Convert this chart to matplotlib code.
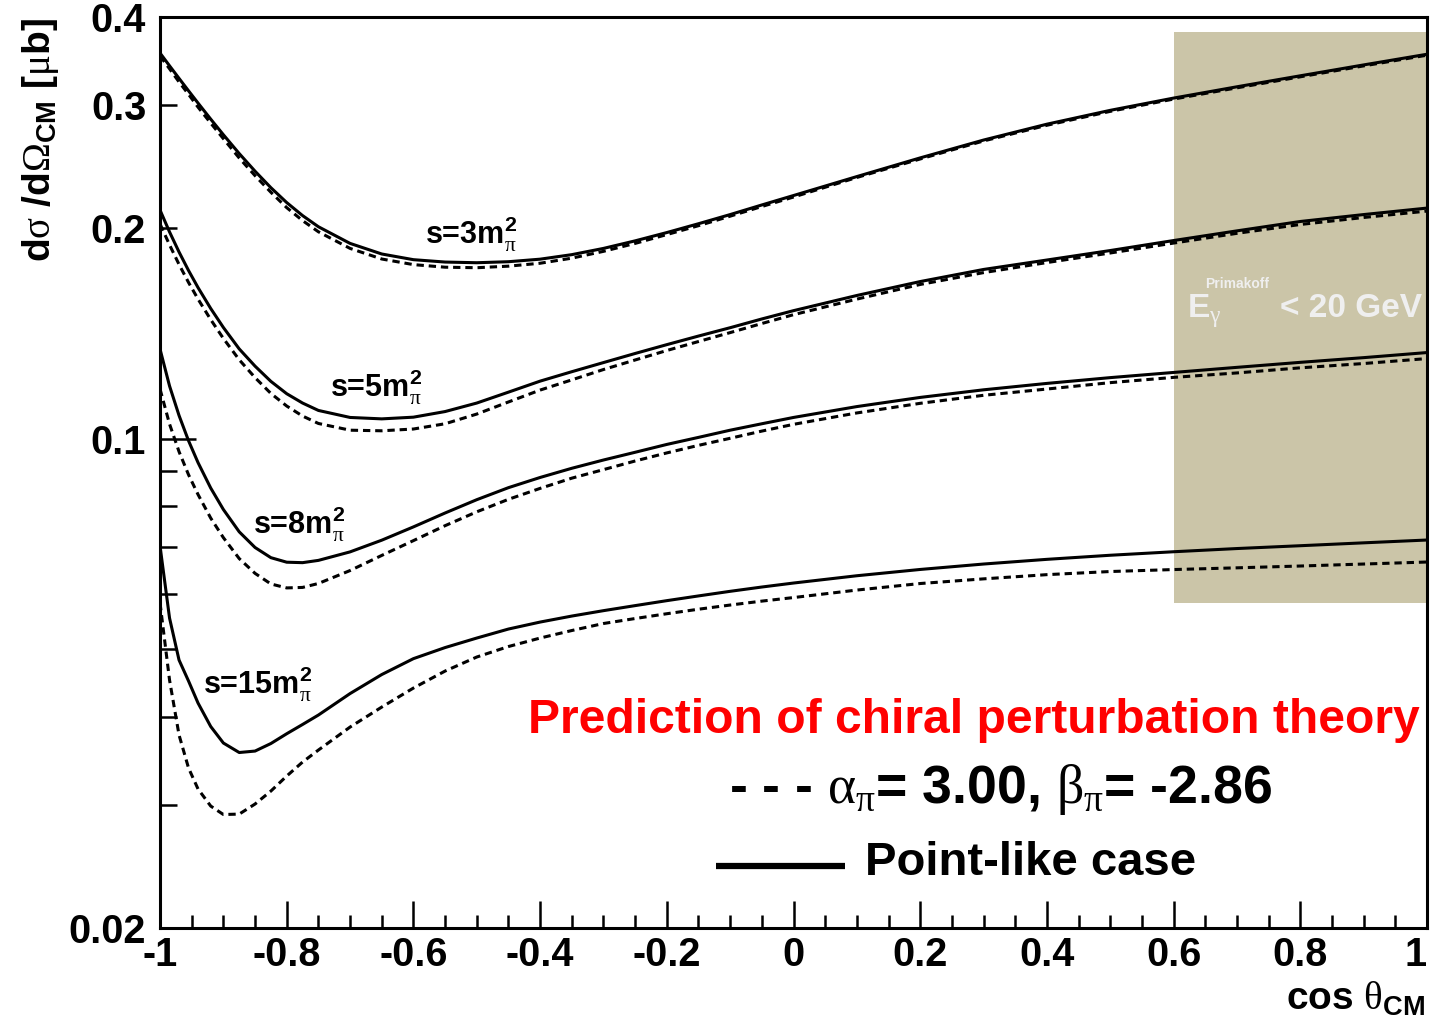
import matplotlib
matplotlib.use("Agg")
import matplotlib.pyplot as plt
from matplotlib.patches import Rectangle
from matplotlib.ticker import FixedLocator, FixedFormatter

# ---------------------------------------------------------------------------
# Data: gamma-pi Compton cross sections dsigma/dOmega [mub] vs cos(theta_CM)
# ---------------------------------------------------------------------------
cos_theta = [-1.0, -0.985, -0.97, -0.955, -0.94, -0.92, -0.9, -0.875, -0.85, -0.825,
             -0.8, -0.775, -0.75, -0.7, -0.65, -0.6, -0.55, -0.5, -0.45, -0.4,
             -0.35, -0.3, -0.25, -0.2, -0.15, -0.1, -0.05, 0.0, 0.1, 0.2,
             0.3, 0.4, 0.5, 0.6, 0.7, 0.8, 0.9, 1.0]

# point-like (Born) case, solid lines
s3_point = [0.3553, 0.3407, 0.3269, 0.3138, 0.3014, 0.2859, 0.2716, 0.2553, 0.2409, 0.2282,
            0.2173, 0.2082, 0.2007, 0.1900, 0.1835, 0.1801, 0.1787, 0.1783, 0.1789, 0.1804,
            0.1831, 0.1869, 0.1916, 0.1969, 0.2027, 0.2089, 0.2156, 0.2224, 0.2367, 0.2517,
            0.2669, 0.2812, 0.2943, 0.3064, 0.3180, 0.3297, 0.3417, 0.3539]
s5_point = [0.2120, 0.1973, 0.1847, 0.1738, 0.1643, 0.1534, 0.1441, 0.1343, 0.1269, 0.1207,
            0.1159, 0.1124, 0.1097, 0.1072, 0.1067, 0.1073, 0.1093, 0.1124, 0.1165, 0.1208,
            0.1246, 0.1284, 0.1323, 0.1362, 0.1401, 0.1440, 0.1482, 0.1523, 0.1601, 0.1676,
            0.1744, 0.1799, 0.1856, 0.1918, 0.1980, 0.2042, 0.2089, 0.2134]
s8_point = [0.1342, 0.1189, 0.1079, 0.0993, 0.0924, 0.0850, 0.0792, 0.0736, 0.0699, 0.0676,
            0.0666, 0.0665, 0.0670, 0.0689, 0.0716, 0.0748, 0.0783, 0.0818, 0.0851, 0.0880,
            0.0907, 0.0932, 0.0956, 0.0981, 0.1004, 0.1028, 0.1050, 0.1072, 0.1111, 0.1145,
            0.1174, 0.1199, 0.1222, 0.1243, 0.1264, 0.1285, 0.1305, 0.1327]
s15_point = [0.07024, 0.05543, 0.04828, 0.04506, 0.04191, 0.03880, 0.03675, 0.03562, 0.03579, 0.03669,
             0.03789, 0.03906, 0.04029, 0.04324, 0.04603, 0.04850, 0.05030, 0.05190, 0.05346, 0.05470,
             0.05579, 0.05679, 0.05774, 0.05869, 0.05961, 0.06052, 0.06138, 0.06219, 0.06370, 0.06503,
             0.06620, 0.06723, 0.06814, 0.06893, 0.06966, 0.07031, 0.07098, 0.07164]

# ChPT prediction with alpha_pi = 3.00, beta_pi = -2.86, dashed lines
s3_chpt = [0.3519, 0.3374, 0.3231, 0.3102, 0.2974, 0.2822, 0.2681, 0.2516, 0.2374, 0.2248,
           0.2137, 0.2048, 0.1974, 0.1869, 0.1805, 0.1772, 0.1757, 0.1754, 0.1763, 0.1780,
           0.1810, 0.1851, 0.1900, 0.1956, 0.2014, 0.2078, 0.2145, 0.2213, 0.2360, 0.2508,
           0.2661, 0.2802, 0.2933, 0.3054, 0.3169, 0.3286, 0.3406, 0.3528]
s5_chpt = [0.2025, 0.1891, 0.1773, 0.1671, 0.1582, 0.1479, 0.1390, 0.1296, 0.1222, 0.1160,
           0.1113, 0.1077, 0.1051, 0.1028, 0.1026, 0.1032, 0.1050, 0.1084, 0.1128, 0.1173,
           0.1213, 0.1255, 0.1295, 0.1336, 0.1376, 0.1417, 0.1460, 0.1503, 0.1582, 0.1660,
           0.1726, 0.1784, 0.1841, 0.1902, 0.1964, 0.2022, 0.2069, 0.2113]
s8_chpt = [0.1177, 0.1049, 0.0958, 0.0888, 0.0832, 0.0770, 0.0722, 0.0674, 0.0642, 0.0620,
           0.0612, 0.0613, 0.0621, 0.0648, 0.0681, 0.0715, 0.0751, 0.0786, 0.0819, 0.0849,
           0.0878, 0.0903, 0.0929, 0.0954, 0.0978, 0.1001, 0.1025, 0.1048, 0.1088, 0.1123,
           0.1153, 0.1177, 0.1202, 0.1223, 0.1241, 0.1262, 0.1280, 0.1301]
s15_chpt = [0.05823, 0.04521, 0.03773, 0.03385, 0.03159, 0.02987, 0.02905, 0.02909, 0.03007, 0.03138,
            0.03297, 0.03452, 0.03591, 0.03873, 0.04136, 0.04403, 0.04656, 0.04876, 0.05047, 0.05190,
            0.05320, 0.05444, 0.05534, 0.05622, 0.05706, 0.05785, 0.05860, 0.05929, 0.06077, 0.06209,
            0.06305, 0.06393, 0.06459, 0.06501, 0.06538, 0.06577, 0.06620, 0.06664]

# Primakoff kinematic region (E_gamma < 20 GeV)
primakoff_cos = [0.6, 1.0]
primakoff_sigma = [0.0582, 0.381]

x_ticks = [-1.0, -0.8, -0.6, -0.4, -0.2, 0.0, 0.2, 0.4, 0.6, 0.8, 1.0]
x_tick_labels = ["-1", "-0.8", "-0.6", "-0.4", "-0.2", "0", "0.2", "0.4", "0.6", "0.8", "1"]
x_minor = [round(-1 + 0.05 * i, 2) for i in range(41)]
y_major = [0.02, 0.1]
y_major_labels = ["0.02", "0.1"]
y_minor = [0.03, 0.04, 0.05, 0.06, 0.07, 0.08, 0.09, 0.2, 0.3, 0.4]
y_minor_labels = ["", "", "", "", "", "", "", "0.2", "0.3", "0.4"]

# ---------------------------------------------------------------------------
plt.rcParams.update({
    "font.family": ["Liberation Sans", "DejaVu Sans"],
    "font.weight": "bold",
    "mathtext.fontset": "custom",
    "mathtext.rm": "Liberation Sans:weight=bold",
    "mathtext.bf": "Liberation Sans:weight=bold",
    "mathtext.sf": "Liberation Sans:weight=bold",
    "mathtext.it": "Liberation Serif:weight=normal:style=normal",
    "mathtext.cal": "Liberation Serif:weight=normal:style=normal",
    "mathtext.default": "rm",
})

fig = plt.figure(figsize=(14.34, 10.25), dpi=100)
ax = fig.add_axes([0.1116, 0.0946, 0.8835, 0.8888])
ax.set_yscale("log")
ax.set_xlim(-1, 1)
ax.set_ylim(0.02, 0.4)

# shaded Primakoff region
ax.add_patch(Rectangle((primakoff_cos[0], primakoff_sigma[0]),
                       primakoff_cos[1] - primakoff_cos[0],
                       primakoff_sigma[1] - primakoff_sigma[0],
                       facecolor="#cbc5a8", edgecolor="none", zorder=0.5))

lw = 2.2
dash = (0, (2.4, 1.6))
for point, chpt in [(s3_point, s3_chpt), (s5_point, s5_chpt),
                    (s8_point, s8_chpt), (s15_point, s15_chpt)]:
    ax.plot(cos_theta, point, color="black", lw=lw, zorder=3)
    ax.plot(cos_theta, chpt, color="black", lw=lw, linestyle=dash, zorder=3)

# curve labels
lab_kw = dict(fontsize=22, fontweight="bold", ha="left", va="baseline", zorder=4)
ax.text(-0.582, 0.190, r"s=3m$^{2}_{\mathit{\pi}}$", **lab_kw)
ax.text(-0.732, 0.115, r"s=5m$^{2}_{\mathit{\pi}}$", **lab_kw)
ax.text(-0.853, 0.0733, r"s=8m$^{2}_{\mathit{\pi}}$", **lab_kw)
ax.text(-0.932, 0.0433, r"s=15m$^{2}_{\mathit{\pi}}$", **lab_kw)

# Primakoff box annotation
box_col = "#efefef"
ax.text(0.621, 0.149, r"E$_{\mathit{\gamma}}$", fontsize=24, color=box_col,
        ha="left", va="baseline", zorder=4)
ax.text(0.650, 0.164, "Primakoff", fontsize=10, color=box_col,
        ha="left", va="baseline", zorder=4)
ax.text(0.768, 0.149, "< 20 GeV", fontsize=24, color=box_col,
        ha="left", va="baseline", zorder=4)

# prediction text and legend
ax.text(0.6425, 0.214, "Prediction of chiral perturbation theory", color="red",
        fontsize=34.6, ha="center", va="baseline", transform=ax.transAxes)
ax.text(0.4491, 0.1372,
        r"- - - $\mathit{\alpha}_{\mathit{\pi}}$= 3.00, $\mathit{\beta}_{\mathit{\pi}}$= -2.86",
        fontsize=38.6, ha="left", va="baseline", transform=ax.transAxes)
ax.plot([0.439, 0.5406], [0.0681, 0.0681], color="black", lw=4.5,
        transform=ax.transAxes, solid_capstyle="butt")
ax.text(0.5564, 0.0582, "Point-like case", fontsize=34, ha="left", va="baseline",
        transform=ax.transAxes)

# axes styling
for sp in ax.spines.values():
    sp.set_linewidth(2.2)
ax.xaxis.set_major_locator(FixedLocator(x_ticks))
ax.xaxis.set_major_formatter(FixedFormatter(x_tick_labels))
ax.xaxis.set_minor_locator(FixedLocator(x_minor))
ax.yaxis.set_major_locator(FixedLocator(y_major))
ax.yaxis.set_major_formatter(FixedFormatter(y_major_labels))
ax.yaxis.set_minor_locator(FixedLocator(y_minor))
ax.yaxis.set_minor_formatter(FixedFormatter(y_minor_labels))

ax.tick_params(which="both", direction="in", top=False, right=False,
               width=1.8, labelsize=28.5)
ax.xaxis.set_tick_params(which="major", length=19.5, pad=6)
ax.xaxis.set_tick_params(which="minor", length=9.4, pad=6)
ax.yaxis.set_tick_params(which="major", length=26, pad=10)
ax.yaxis.set_tick_params(which="minor", length=12, pad=10)
for lbl in ax.get_xticklabels() + ax.get_yticklabels(minor=True) + ax.get_yticklabels():
    lbl.set_fontweight("bold")
# keep the last x label inside the canvas
ax.get_xticklabels()[-1].set_horizontalalignment("right")
ax.get_xticklabels()[-1].set_x(1.006)

fig.text(0.0279, 0.863,
         r"d$\mathit{\sigma}$ /d$\mathcal{\Omega}_{\mathrm{CM}}$ [$\mathit{\mu}$b]",
         rotation=90, fontsize=28, ha="center", va="center")
fig.text(0.9937, 0.0146, r"cos $\mathit{\theta}_{\mathrm{CM}}$", fontsize=28,
         ha="right", va="baseline")

fig.savefig("out.png", dpi=100)
